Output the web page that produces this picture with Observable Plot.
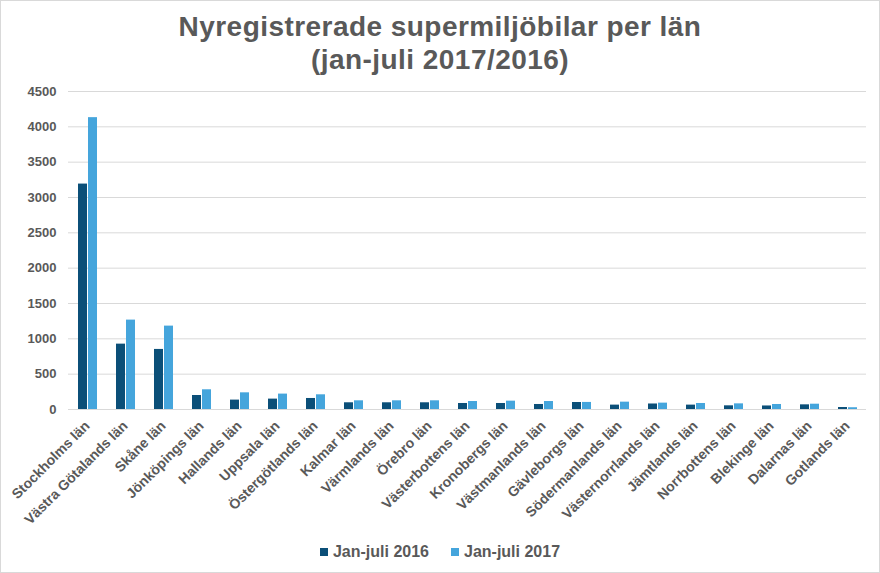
<!DOCTYPE html>
<html>
<head>
<meta charset="utf-8">
<script src="https://cdn.jsdelivr.net/npm/d3@7"></script>
<script src="https://cdn.jsdelivr.net/npm/@observablehq/plot@0.6"></script>
<style>
  html, body { margin: 0; padding: 0; background: #fff; }
  #chart { position: absolute; left: 0; top: 0; width: 880px; height: 573px; box-sizing: border-box; border: 1px solid #d9d9d9; background: #fff; font-family: "Liberation Sans", Arial, sans-serif; color: #595959; }
  #title { position: absolute; left: 0; top: 9px; width: 878px; text-align: center; font-size: 28px; line-height: 33px; font-weight: bold; color: #595959; letter-spacing: 0.45px; }
  #plot { position: absolute; left: 0; top: 80px; }
  #plot g[aria-label="fx-axis tick label"] { font-size: 14px; }
  #legend { position: absolute; left: 0; top: 541px; width: 878px; text-align: center; font-size: 16px; font-weight: bold; line-height: 20px; color: #595959; white-space: nowrap; }
  #legend .item { display: inline-block; margin: 0 11px; }
  #legend .sw { display: inline-block; width: 8px; height: 8px; margin-right: 5px; vertical-align: 1px; }
</style>
</head>
<body>
<div id="chart">
  <div id="title">Nyregistrerade supermiljöbilar per län<br>(jan-juli 2017/2016)</div>
  <div id="plot"></div>
  <div id="legend"></div>
</div>
<script>
const regions = ["Stockholms län","Västra Götalands län","Skåne län","Jönköpings län","Hallands län","Uppsala län","Östergötlands län","Kalmar län","Värmlands län","Örebro län","Västerbottens län","Kronobergs län","Västmanlands län","Gävleborgs län","Södermanlands län","Västernorrlands län","Jämtlands län","Norrbottens län","Blekinge län","Dalarnas län","Gotlands län"];
const values2016 = [3190, 925, 850, 198, 133, 147, 156, 95, 95, 95, 85, 85, 71, 99, 62, 78, 62, 52, 50, 66, 28];
const values2017 = [4130, 1265, 1180, 279, 236, 218, 208, 123, 123, 123, 113, 118, 113, 100, 104, 90, 85, 80, 71, 75, 25];
const seriesKeys = ["2016", "2017"];
const seriesLabels = ["Jan-juli 2016", "Jan-juli 2017"];
const seriesColors = ["#0b4f78", "#45a5dc"];
const yTicks = [0, 500, 1000, 1500, 2000, 2500, 3000, 3500, 4000, 4500];

const data = regions.flatMap((r, i) => [
  {region: r, year: seriesKeys[0], value: values2016[i]},
  {region: r, year: seriesKeys[1], value: values2017[i]}
]);

const chart = Plot.plot({
  width: 878,
  height: 452,
  marginLeft: 66,
  marginRight: 13,
  marginTop: 10,
  marginBottom: 124,
  style: {fontFamily: "'Liberation Sans', Arial, sans-serif", fontSize: "13px", fontWeight: "bold", color: "#595959", background: "transparent"},
  fx: {domain: regions, padding: 0, label: null, tickRotate: -45, tickSize: 0, tickPadding: 14},
  x: {domain: seriesKeys, paddingInner: 0.1, paddingOuter: 0.85, axis: null},
  y: {domain: [0, 4500], ticks: yTicks, tickFormat: d => String(d), tickSize: 0, tickPadding: 12, label: null},
  color: {domain: seriesKeys, range: seriesColors},
  marks: [
    Plot.ruleY(yTicks, {stroke: "#d9d9d9", strokeWidth: 1}),
    Plot.barY(data, {fx: "region", x: "year", y: "value", fill: "year"})
  ]
});
document.getElementById("plot").appendChild(chart);

const legend = document.getElementById("legend");
seriesKeys.forEach((k, i) => {
  const item = document.createElement("span");
  item.className = "item";
  const sw = document.createElement("span");
  sw.className = "sw";
  sw.style.background = seriesColors[i];
  item.appendChild(sw);
  item.appendChild(document.createTextNode(seriesLabels[i]));
  legend.appendChild(item);
});
</script>
</body>
</html>
